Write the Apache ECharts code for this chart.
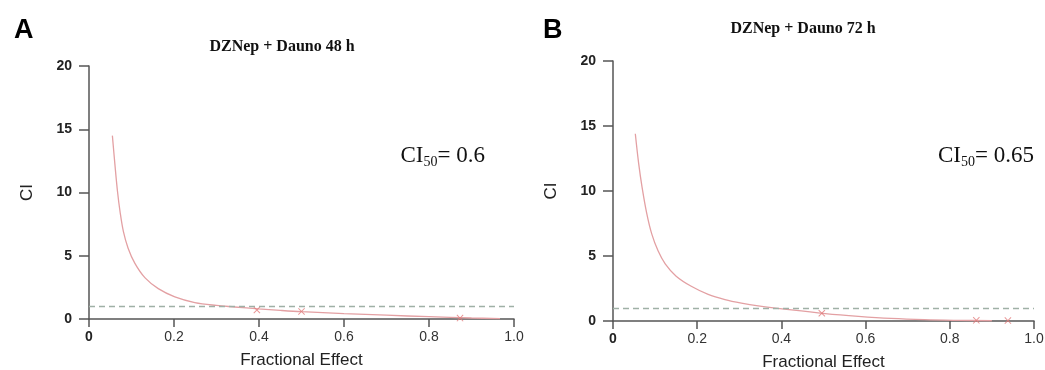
<!DOCTYPE html>
<html>
<head>
<meta charset="utf-8">
<script src="https://cdn.jsdelivr.net/npm/echarts@6/dist/echarts.min.js"></script>
<style>
  html, body { margin: 0; padding: 0; background: #fff; }
  #chart { width: 1045px; height: 370px; }
</style>
</head>
<body>
<div id="chart"></div>
<script>
// Panel A: DZNep + Dauno 48 h
const faA = [0.055, 0.061, 0.067, 0.073, 0.081, 0.092, 0.108, 0.132, 0.163, 0.202, 0.249, 0.3, 0.343, 0.398, 0.45, 0.5, 0.6, 0.7, 0.8, 0.9, 0.967]
const ciA = [14.5, 12.2, 10.1, 8.5, 6.9, 5.6, 4.4, 3.25, 2.4, 1.75, 1.3, 1.07, 0.95, 0.8, 0.68, 0.58, 0.43, 0.3, 0.18, 0.08, 0.03]
const markFaA = [0.395, 0.5, 0.873]
const markCiA = [0.71, 0.6, 0.07]

// Panel B: DZNep + Dauno 72 h
const faB = [0.053, 0.061, 0.069, 0.08, 0.092, 0.107, 0.124, 0.15, 0.187, 0.226, 0.266, 0.305, 0.345, 0.424, 0.504, 0.583, 0.66, 0.74, 0.82, 0.9]
const ciB = [14.4, 12.1, 10.3, 8.3, 6.7, 5.4, 4.4, 3.45, 2.65, 2.05, 1.65, 1.38, 1.17, 0.85, 0.57, 0.36, 0.2, 0.1, 0.05, 0.02]
const markFaB = [0.496, 0.863, 0.938]
const markCiB = [0.6, 0.05, 0.03]

const titles = ['DZNep + Dauno 48 h', 'DZNep + Dauno 72 h']
const ci50 = ['0.6', '0.65']
const additiveLine = 1

const zip = (xs, ys) => xs.map((x, i) => [x, ys[i]])
const crossPath = 'path://M0,1L1,0L5,4L9,0L10,1L6,5L10,9L9,10L5,6L1,10L0,9L4,5Z'

const chart = echarts.init(document.getElementById('chart'))

const xAxisBase = (gridIndex) => ({
  gridIndex,
  type: 'value',
  min: 0,
  max: 1,
  interval: 0.2,
  name: 'Fractional Effect',
  nameLocation: 'middle',
  nameGap: 33,
  nameTextStyle: { fontFamily: 'Liberation Sans', fontSize: 17, color: '#222' },
  axisLine: { lineStyle: { color: '#555', width: 1.5 } },
  axisTick: { length: 8, lineStyle: { color: '#555', width: 1.5 } },
  axisLabel: {
    fontFamily: 'Liberation Sans',
    fontSize: 14,
    color: '#333',
    margin: 11,
    formatter: (v) => (v === 0 ? '{b|0}' : v.toFixed(1)),
    rich: { b: { fontFamily: 'Liberation Sans', fontSize: 14, fontWeight: 'bold', color: '#222' } },
  },
  splitLine: { show: false },
})

const yAxisBase = (gridIndex) => ({
  gridIndex,
  type: 'value',
  min: 0,
  max: 20,
  interval: 5,
  name: 'CI',
  nameLocation: 'middle',
  nameRotate: 90,
  nameGap: 53,
  nameTextStyle: { fontFamily: 'Liberation Sans', fontSize: 17, color: '#222' },
  axisLine: { show: true, lineStyle: { color: '#555', width: 1.5 } },
  axisTick: { show: true, length: 10, lineStyle: { color: '#555', width: 1.5 } },
  axisLabel: {
    fontFamily: 'Liberation Sans',
    fontSize: 14,
    fontWeight: 'bold',
    color: '#222',
    margin: 17,
    verticalAlign: 'middle',
    padding: [0, 0, 8, 0],
  },
  splitLine: { show: false },
})

const curveSeries = (idx, data) => ({
  type: 'line',
  xAxisIndex: idx,
  yAxisIndex: idx,
  data,
  smooth: 0.35,
  showSymbol: false,
  lineStyle: { color: '#e3a0a3', width: 1.3 },
  markLine: {
    silent: true,
    symbol: 'none',
    label: { show: false },
    lineStyle: { color: '#9fb0a6', type: [6, 4], width: 1.3 },
    data: [{ yAxis: additiveLine }],
  },
  z: 3,
})

const markSeries = (idx, data) => ({
  type: 'scatter',
  xAxisIndex: idx,
  yAxisIndex: idx,
  data,
  symbol: crossPath,
  symbolSize: 7,
  itemStyle: { color: '#e27a7a' },
  z: 4,
})

const ciText = (value, right) => ({
  text: `{a|CI}{s|50}{a|= ${value}}`,
  right,
  top: 138,
  textStyle: {
    rich: {
      a: { fontFamily: 'Liberation Serif', fontSize: 23, fontWeight: 'normal', color: '#111' },
      s: { fontFamily: 'Liberation Serif', fontSize: 14, fontWeight: 'normal', color: '#111', verticalAlign: 'bottom', padding: [12, 0, 0, 0] },
    },
  },
})

chart.setOption({
  animation: false,
  title: [
    { text: 'A', left: 9, top: 12, textStyle: { fontFamily: 'Liberation Sans', fontSize: 27, fontWeight: 'bold', color: '#000' } },
    { text: 'B', left: 538, top: 12, textStyle: { fontFamily: 'Liberation Sans', fontSize: 27, fontWeight: 'bold', color: '#000' } },
    { text: titles[0], left: 277, top: 34, textAlign: 'center', textStyle: { fontFamily: 'Liberation Serif', fontSize: 16, fontWeight: 'bold', color: '#111' } },
    { text: titles[1], left: 798, top: 16, textAlign: 'center', textStyle: { fontFamily: 'Liberation Serif', fontSize: 16, fontWeight: 'bold', color: '#111' } },
    ciText(ci50[0], 1045 - 490),
    ciText(ci50[1], 6),
  ],
  grid: [
    { left: 89, right: 531, top: 66, bottom: 51, outerBoundsMode: 'none', containLabel: false },
    { left: 613, right: 11, top: 61, bottom: 49, outerBoundsMode: 'none', containLabel: false },
  ],
  xAxis: [xAxisBase(0), xAxisBase(1)],
  yAxis: [yAxisBase(0), yAxisBase(1)],
  series: [
    curveSeries(0, zip(faA, ciA)),
    markSeries(0, zip(markFaA, markCiA)),
    curveSeries(1, zip(faB, ciB)),
    markSeries(1, zip(markFaB, markCiB)),
  ],
})
</script>
</body>
</html>
